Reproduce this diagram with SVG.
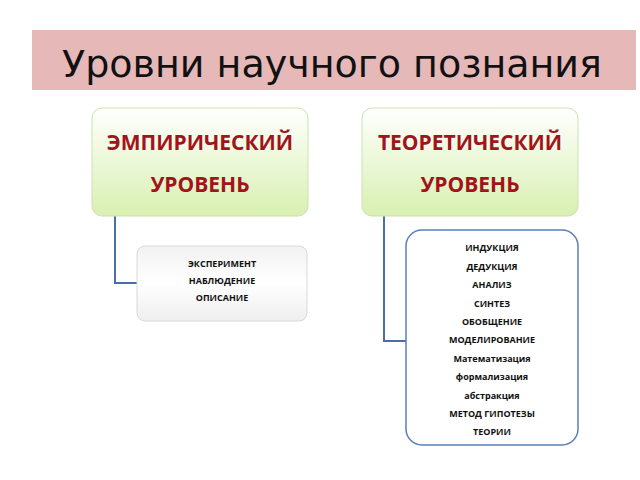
<svg xmlns="http://www.w3.org/2000/svg" width="640" height="480" viewBox="0 0 640 480">
<defs>
<linearGradient id="g" x1="0" y1="0" x2="0" y2="1"><stop offset="0" stop-color="#ffffff"/><stop offset="1" stop-color="#d8f0b0"/></linearGradient>
<linearGradient id="w" x1="0" y1="0" x2="0" y2="1"><stop offset="0" stop-color="#f2f2f2"/><stop offset="0.5" stop-color="#ffffff"/><stop offset="1" stop-color="#eeeeee"/></linearGradient>
<style>
.h{font-family:"Open Sans","Liberation Sans",sans-serif;font-weight:bold;font-size:21px;fill:#a0141c;text-anchor:middle}
.s{font-family:"Open Sans","Liberation Sans",sans-serif;font-weight:bold;font-size:9px;fill:#111;text-anchor:middle}
.c{fill:none;stroke:#4a6fa8;stroke-width:2}
</style>
</defs>
<rect x="32" y="30" width="604" height="60" fill="#e6b8b8"/>
<text x="332" y="77" font-family="DejaVu Sans,sans-serif" font-size="38" text-anchor="middle" fill="#111">Уровни научного познания</text>
<g id="connectors">
<path class="c" d="M115 216 V283 H137"/>
<path class="c" d="M384 216 V341 H406"/>
</g>
<g id="emp">
<rect x="92" y="108" width="216" height="108" rx="10" fill="url(#g)" stroke="#cfe0b0"/>
<text class="h" x="200" y="150">ЭМПИРИЧЕСКИЙ</text>
<text class="h" x="200" y="192">УРОВЕНЬ</text>
</g>
<g id="teo">
<rect x="362" y="108" width="216" height="108" rx="10" fill="url(#g)" stroke="#cfe0b0"/>
<text class="h" x="470" y="150">ТЕОРЕТИЧЕСКИЙ</text>
<text class="h" x="470" y="192">УРОВЕНЬ</text>
</g>
<g id="empList">
<rect x="137" y="246" width="170" height="75" rx="8" fill="url(#w)" stroke="#d8d8d8"/>
<text class="s" x="222" y="267">ЭКСПЕРИМЕНТ</text>
<text class="s" x="222" y="284">НАБЛЮДЕНИЕ</text>
<text class="s" x="222" y="301">ОПИСАНИЕ</text>
</g>
<g id="teoList">
<rect x="406" y="230" width="172" height="215" rx="16" fill="#fff" stroke="#5a7fb8" stroke-width="1.5"/>
<text class="s" x="492" y="251">ИНДУКЦИЯ</text>
<text class="s" x="492" y="270">ДЕДУКЦИЯ</text>
<text class="s" x="492" y="288">АНАЛИЗ</text>
<text class="s" x="492" y="307">СИНТЕЗ</text>
<text class="s" x="492" y="325">ОБОБЩЕНИЕ</text>
<text class="s" x="492" y="343">МОДЕЛИРОВАНИЕ</text>
<text class="s" x="492" y="362">Математизация</text>
<text class="s" x="492" y="380">формализация</text>
<text class="s" x="492" y="399">абстракция</text>
<text class="s" x="492" y="417">МЕТОД ГИПОТЕЗЫ</text>
<text class="s" x="492" y="435">ТЕОРИИ</text>
</g>
</svg>
